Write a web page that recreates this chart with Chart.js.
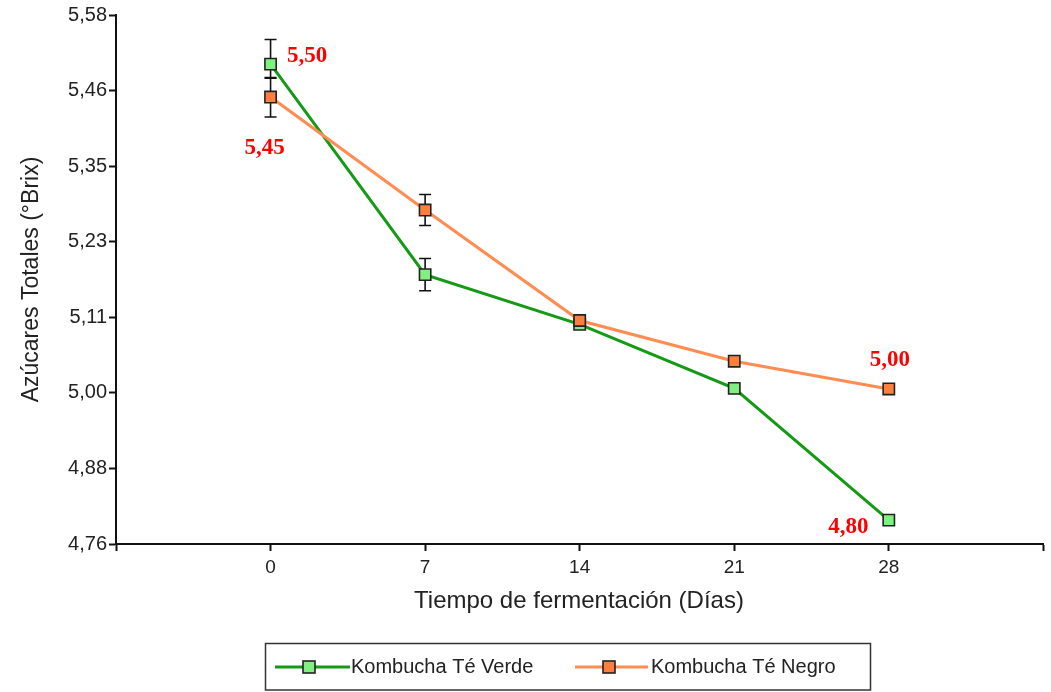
<!DOCTYPE html>
<html>
<head>
<meta charset="utf-8">
<script src="https://cdn.jsdelivr.net/npm/chart.js@4.4.1/dist/chart.umd.min.js"></script>
<style>
  html, body { margin: 0; padding: 0; background: #ffffff; }
  #wrap { width: 1051px; height: 692px; position: relative; }
</style>
</head>
<body>
<div id="wrap"><canvas id="c"></canvas></div>
<script>
// ---- data ----
const days = [0, 7, 14, 21, 28];
const seriesNames = ['Kombucha Té Verde', 'Kombucha Té Negro'];
const verdeValues = [5.505, 5.179, 5.102, 5.003, 4.799];
const negroValues = [5.454, 5.279, 5.108, 5.045, 5.002];
const verdeErrorsUp = [0.038, 0.025, 0, 0, 0];
const verdeErrorsDown = [0.022, 0.025, 0, 0, 0];
const negroErrorsUp = [0.030, 0.024, 0, 0, 0];
const negroErrorsDown = [0.031, 0.024, 0, 0, 0];
const verdeLabels = ['5,50', null, null, null, '4,80'];
const negroLabels = ['5,45', null, null, null, '5,00'];
const yTickValues = [4.762, 4.879, 4.996, 5.113, 5.230, 5.347, 5.464, 5.581];
const yTickLabels = ['4,76', '4,88', '5,00', '5,11', '5,23', '5,35', '5,46', '5,58'];
const xTickValues = [-7, 0, 7, 14, 21, 28, 35];
const xTickLabels = [' ', '0', '7', '14', '21', '28', ' '];
const xTitle = 'Tiempo de fermentación (Días)';
const yTitle = 'Azúcares Totales (°Brix)';

const SANS = '"Liberation Sans", Arial, sans-serif';
const SERIF = '"Liberation Serif", "Times New Roman", serif';
const TEXT = '#222222';

function pts(vals) { return days.map((d, i) => ({ x: d, y: vals[i] })); }

// error bars plugin
const errorBars = {
  id: 'errorBars',
  beforeDatasetsDraw(chart) {
    const ctx = chart.ctx;
    const ys = chart.scales.y, xs = chart.scales.x;
    const ups = [verdeErrorsUp, negroErrorsUp];
    const downs = [verdeErrorsDown, negroErrorsDown];
    ctx.save();
    ctx.strokeStyle = '#111111';
    ctx.lineWidth = 1.6;
    chart.data.datasets.forEach((ds, di) => {
      ds.data.forEach((p, i) => {
        const eu = ups[di][i], ed = downs[di][i];
        if (!eu && !ed) return;
        const x = xs.getPixelForValue(p.x);
        const y1 = ys.getPixelForValue(p.y + eu);
        const y2 = ys.getPixelForValue(p.y - ed);
        ctx.beginPath();
        ctx.moveTo(x, y1); ctx.lineTo(x, y2);
        ctx.moveTo(x - 6, y1); ctx.lineTo(x + 6, y1);
        ctx.moveTo(x - 6, y2); ctx.lineTo(x + 6, y2);
        ctx.stroke();
      });
    });
    ctx.restore();
  }
};

// value labels, titles, legend
const decorations = {
  id: 'decorations',
  afterDraw(chart) {
    const ctx = chart.ctx;
    const ys = chart.scales.y, xs = chart.scales.x;
    const labelSets = [verdeLabels, negroLabels];
    const offsets = {
      '0-0': [36.5, -2], '0-4': [-40.5, 12.5],
      '1-0': [-6, 57], '1-4': [1, -22.5]
    };
    ctx.save();
    ctx.font = 'bold 23px ' + SERIF;
    ctx.fillStyle = '#ff0000';
    ctx.textAlign = 'center';
    ctx.textBaseline = 'alphabetic';
    chart.data.datasets.forEach((ds, di) => {
      ds.data.forEach((p, i) => {
        const t = labelSets[di][i];
        if (!t) return;
        const o = offsets[di + '-' + i] || [0, -12];
        ctx.fillText(t, xs.getPixelForValue(p.x) + o[0], ys.getPixelForValue(p.y) + o[1]);
      });
    });

    // axis titles
    ctx.fillStyle = TEXT;
    ctx.textBaseline = 'middle';
    ctx.font = '24px ' + SANS;
    ctx.fillText(xTitle, 579, 601);
    ctx.save();
    ctx.translate(32, (chart.chartArea.top + chart.chartArea.bottom) / 2);
    ctx.rotate(-Math.PI / 2);
    ctx.font = '23px ' + SANS;
    ctx.fillText(yTitle, 0, 0);
    ctx.restore();

    // legend
    ctx.strokeStyle = '#333333';
    ctx.lineWidth = 1.5;
    ctx.strokeRect(265.5, 643.5, 605, 46.5);
    const items = [
      { x0: 275, x1: 350, mx: 309, tx: 351 },
      { x0: 575, x1: 648, mx: 609, tx: 651 }
    ];
    const ly = 667;
    chart.data.datasets.forEach((ds, di) => {
      const it = items[di];
      ctx.strokeStyle = ds.borderColor;
      ctx.lineWidth = 3;
      ctx.beginPath(); ctx.moveTo(it.x0, ly); ctx.lineTo(it.x1, ly); ctx.stroke();
      ctx.fillStyle = ds.pointBackgroundColor;
      ctx.fillRect(it.mx - 6, ly - 6, 12, 12);
      ctx.strokeStyle = '#222222';
      ctx.lineWidth = 1.6;
      ctx.strokeRect(it.mx - 6, ly - 6, 12, 12);
      ctx.fillStyle = TEXT;
      ctx.font = '20px ' + SANS;
      ctx.textAlign = 'left';
      ctx.textBaseline = 'middle';
      ctx.fillText(ds.label, it.tx, ly);
    });
    ctx.restore();
  }
};

new Chart(document.getElementById('c'), {
  type: 'line',
  data: {
    datasets: [
      {
        label: seriesNames[0],
        data: pts(verdeValues),
        borderColor: '#159a15',
        backgroundColor: '#159a15',
        pointBackgroundColor: '#80f080',
        pointBorderColor: '#222222',
        pointBorderWidth: 1.6,
        pointStyle: 'rect',
        pointRadius: 8,
        borderWidth: 3,
        tension: 0,
        order: 1
      },
      {
        label: seriesNames[1],
        data: pts(negroValues),
        borderColor: '#ff8c50',
        backgroundColor: '#ff8c50',
        pointBackgroundColor: '#ff7f3f',
        pointBorderColor: '#222222',
        pointBorderWidth: 1.6,
        pointStyle: 'rect',
        pointRadius: 8,
        borderWidth: 3,
        tension: 0,
        order: 0
      }
    ]
  },
  options: {
    responsive: true,
    maintainAspectRatio: false,
    animation: false,
    devicePixelRatio: 1,
    layout: { autoPadding: false, padding: { top: 15, right: 5, left: 0, bottom: 0 } },
    plugins: { legend: { display: false }, tooltip: { enabled: false }, title: { display: false } },
    scales: {
      x: {
        type: 'linear',
        min: -7, max: 35,
        afterBuildTicks(s) { s.ticks = xTickValues.map(v => ({ value: v })); },
        afterFit(s) { s.height = 148; },
        ticks: {
          autoSkip: false, maxRotation: 0, padding: 5,
          color: TEXT, font: { family: SANS, size: 19 },
          callback(v, i) { return xTickLabels[i]; }
        },
        grid: { display: true, drawOnChartArea: false, drawTicks: true, tickLength: 7, color: '#111111', tickWidth: 2 },
        border: { display: true, color: '#111111', width: 2 }
      },
      y: {
        type: 'linear',
        min: yTickValues[0], max: yTickValues[yTickValues.length - 1],
        afterBuildTicks(s) { s.ticks = yTickValues.map(v => ({ value: v })); },
        afterFit(s) { s.width = 116; },
        ticks: {
          autoSkip: false, padding: 2,
          color: TEXT, font: { family: SANS, size: 20 },
          callback(v, i) { return yTickLabels[i]; }
        },
        grid: { display: true, drawOnChartArea: false, drawTicks: true, tickLength: 7, color: '#111111', tickWidth: 2 },
        border: { display: true, color: '#111111', width: 2 }
      }
    }
  },
  plugins: [errorBars, decorations]
});
</script>
</body>
</html>
